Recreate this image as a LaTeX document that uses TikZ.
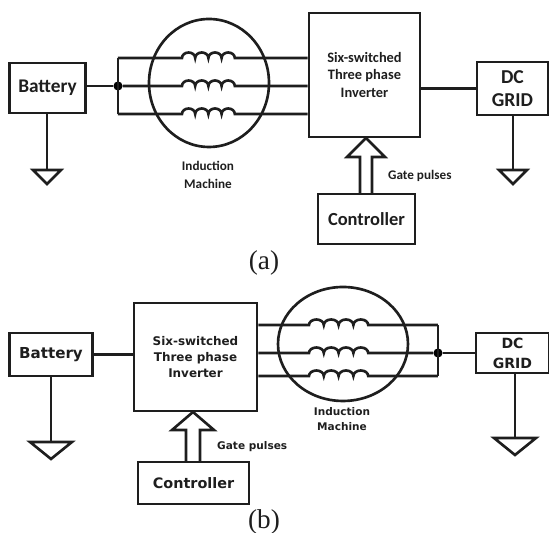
\documentclass[tikz,border=0pt]{standalone}
\usepackage{fontspec}
\setmainfont{Carlito}
\newfontfamily\veradj{DejaVu Sans}
\newfontfamily\capfont{Liberation Serif}
\usetikzlibrary{shapes.geometric,calc}
\definecolor{inkdark}{HTML}{1E1E1E}
\tikzset{
	wire/.style={line width=1.5pt,inkdark},
	block/.style={draw=inkdark,line width=1.6pt,inner sep=0pt,align=center,text=inkdark},
	machine/.style={ellipse,draw=inkdark,line width=1.5pt,inner sep=0pt},
	dotjoin/.style={circle,fill=black,inner sep=0pt,minimum size=5.2pt},
	labela/.style={font=\bfseries\fontsize{7.5}{9}\selectfont,text=inkdark,align=center},
	labelb/.style={font=\veradj\bfseries\fontsize{6}{8.5}\selectfont,text=inkdark,align=center},
	caption/.style={font=\capfont\fontsize{15.5}{17}\selectfont,text=inkdark}
}
\newcommand{\coilbumps}[1]{\foreach \k in {1,2,3,4} {arc[start angle=180,end angle=0,x radius=#1,y radius=5.5]}}
\newcommand{\groundsym}[3]{\draw[wire] ($(#1)+(-#2,0)$) -- ($(#1)+(#2,0)$) -- ($(#1)+(0,-#3)$) -- cycle;}
\begin{document}
\begin{tikzpicture}[x=0.02cm,y=0.02cm]
	\useasboundingbox (0,0) rectangle (549,533);
	% panel (a)
	\node[machine,minimum width=120*0.02cm,minimum height=128*0.02cm] (machA) at (209,450) {};
	\node[block,minimum width=76*0.02cm,minimum height=50*0.02cm,font=\bfseries\fontsize{11}{12}\selectfont] (batA) at (47.5,445) {Battery};
	\node[block,minimum width=111*0.02cm,minimum height=124*0.02cm,font=\bfseries\fontsize{8.2}{10}\selectfont] (invA) at (364.5,458) {Six-switched\\Three phase\\Inverter};
	\node[block,minimum width=71*0.02cm,minimum height=53*0.02cm,font=\bfseries\fontsize{11.2}{13}\selectfont] (gridA) at (512.5,444.5) {DC\\GRID};
	\node[block,minimum width=97*0.02cm,minimum height=50*0.02cm,font=\bfseries\fontsize{10.5}{12}\selectfont] (ctrlA) at (366.5,314) {Controller};
	\node[dotjoin] (dotA) at (118,447) {};
	\coordinate (busAt) at (118,475);
	\coordinate (busAb) at (118,419);
	\draw[wire] (batA.east |- dotA) -- (dotA);
	\draw[wire] (busAt) -- (busAb);
	\draw[wire] (busAt) -- (182,475) \coilbumps{6.6} -- (invA.west |- busAt);
	\draw[wire] (dotA) -- (182,447) \coilbumps{6.6} -- (invA.west |- dotA);
	\draw[wire] (busAb) -- (182,419) \coilbumps{6.6} -- (invA.west |- busAb);
	\draw[wire] (invA.east |- gridA) -- (gridA.west);
	\coordinate (gndA) at (47,363);
	\coordinate (gndB) at (513,363);
	\draw[wire] (batA.south -| gndA) -- (gndA);
	\draw[wire] (gridA.south -| gndB) -- (gndB);
	\groundsym{gndA}{14}{14}
	\groundsym{gndB}{14}{14}
	\draw[wire] (360,339) -- (360,376) -- (347,376) -- (366,395) -- (385,376) -- (372,376) -- (372,339);
	\node[labela] (machtextA) at (208,358) {Induction\\[1.5pt]Machine};
	\node[labela,anchor=west] (gateA) at (382,357) {Gate pulses};
	\node[caption] (capA) at (264,270) {(a)};
	% panel (b)
	\node[machine,minimum width=130*0.02cm,minimum height=114*0.02cm] (machB) at (343,189) {};
	\node[block,minimum width=83.5*0.02cm,minimum height=43*0.02cm,font=\veradj\bfseries\fontsize{8.6}{10}\selectfont] (batB) at (51,178.5) {Battery};
	\node[block,minimum width=123*0.02cm,minimum height=108*0.02cm,font=\veradj\bfseries\fontsize{6.8}{9.2}\selectfont] (invB) at (195.5,176) {Six-switched\\Three phase\\Inverter};
	\node[block,minimum width=73*0.02cm,minimum height=40*0.02cm,font=\veradj\bfseries\fontsize{8}{11.5}\selectfont] (gridB) at (512.5,180) {DC\\GRID};
	\node[block,minimum width=111*0.02cm,minimum height=42*0.02cm,font=\veradj\bfseries\fontsize{8.2}{10}\selectfont] (ctrlB) at (193.5,50) {Controller};
	\node[dotjoin] (dotB) at (438,180) {};
	\coordinate (busBt) at (438,208);
	\coordinate (busBb) at (438,157);
	\draw[wire] (batB.east) -- (invB.west |- batB.east);
	\draw[wire] (busBt) -- (busBb);
	\draw[wire] (invB.east |- busBt) -- (309,208) \coilbumps{7.4} -- (busBt);
	\draw[wire] (invB.east |- dotB) -- (309,180) \coilbumps{7.4} -- (dotB);
	\draw[wire] (invB.east |- busBb) -- (309,157) \coilbumps{7.4} -- (busBb);
	\draw[wire] (dotB) -- (gridB.west |- dotB);
	\coordinate (gndC) at (51,91);
	\coordinate (gndD) at (515,95);
	\draw[wire] (batB.south -| gndC) -- (gndC);
	\draw[wire] (gridB.south -| gndD) -- (gndD);
	\groundsym{gndC}{21}{17}
	\groundsym{gndD}{21}{17}
	\draw[wire] (186,71) -- (186,103) -- (172,103) -- (193,121) -- (214,103) -- (200,103) -- (200,71);
	\node[labelb] (machtextB) at (342,113.5) {Induction\\Machine};
	\node[labelb,anchor=west] (gateB) at (211,86) {Gate pulses};
	\node[caption] (capB) at (264,11) {(b)};
\end{tikzpicture}
\end{document}
